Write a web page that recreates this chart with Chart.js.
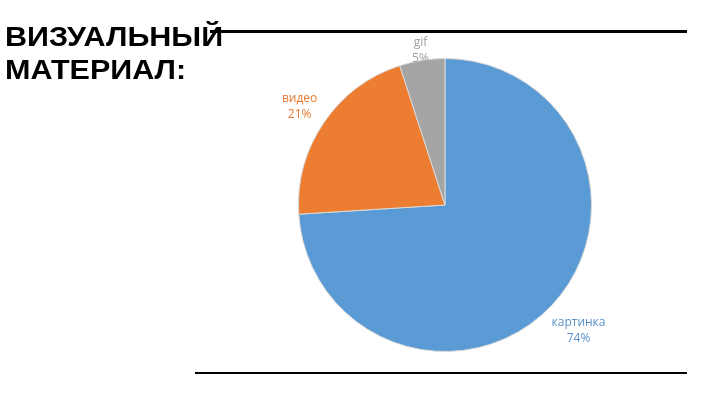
<!DOCTYPE html>
<html>
<head>
<meta charset="utf-8">
<script src="https://cdn.jsdelivr.net/npm/chart.js@4"></script>
<style>
    html, body { margin: 0; padding: 0; background: #fff; }
    #wrap { position: relative; width: 720px; height: 405px; overflow: hidden; }
    #title {
        position: absolute; left: 5px; top: 21px;
        font: bold 27px "Liberation Sans", Arial, sans-serif;
        transform: scaleX(1.13); transform-origin: left top;
        line-height: 33px; color: #000; z-index: 2;
    }
    .rule { position: absolute; background: #000; }
    #chart { position: absolute; left: 0; top: 0; }
</style>
</head>
<body>
<div id="wrap">
    <div class="rule" style="left:210px; top:30px; width:477px; height:3px;"></div>
    <div class="rule" style="left:195px; top:372px; width:492px; height:2px;"></div>
    <div id="title">ВИЗУАЛЬНЫЙ<br>МАТЕРИАЛ:</div>
    <canvas id="chart" width="720" height="405"></canvas>
</div>
<script>
// chart data
const categories = ["картинка", "видео", "gif"];
const shares = [74, 21, 5];
const sliceColors = ["#5b9bd5", "#ed7d31", "#a5a5a5"];

// draws "name / NN%" outside each slice
const outerLabels = {
    id: "outerLabels",
    afterDatasetsDraw(chart, args, opts) {
        const ctx = chart.ctx;
        const arcs = chart.getDatasetMeta(0).data;
        ctx.save();
        ctx.font = '12px "Open Sans", "DejaVu Sans", sans-serif';
        ctx.textAlign = "center";
        ctx.textBaseline = "middle";
        arcs.forEach((arc, i) => {
            const mid = (arc.startAngle + arc.endAngle) / 2;
            const r = arc.outerRadius * opts.distance[i];
            const x = arc.x + Math.cos(mid) * r;
            const y = arc.y + Math.sin(mid) * r;
            ctx.fillStyle = opts.colors[i];
            ctx.fillText(chart.data.labels[i], x, y - 8);
            ctx.fillText(chart.data.datasets[0].data[i] + "%", x, y + 8);
        });
        ctx.restore();
    }
};

new Chart(document.getElementById("chart"), {
    type: "pie",
    data: {
        labels: categories,
        datasets: [{
            data: shares,
            backgroundColor: sliceColors,
            borderColor: "#d9d9d9",
            borderWidth: 1
        }]
    },
    options: {
        responsive: false,
        animation: false,
        layout: { padding: { left: 298, right: 128, top: 58, bottom: 53 } },
        plugins: {
            legend: { display: false },
            tooltip: { enabled: false },
            outerLabels: {
                distance: [1.25, 1.2, 1.07],
                colors: ["#5b8fc8", "#e8782f", "#a0a0a0"]
            }
        }
    },
    plugins: [outerLabels]
});
</script>
</body>
</html>
